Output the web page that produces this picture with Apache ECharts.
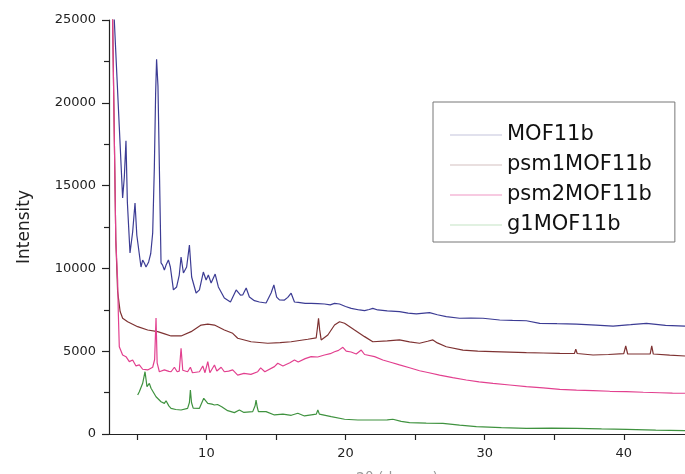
<!DOCTYPE html>
<html>
<head>
<meta charset="utf-8">
<script src="https://cdn.jsdelivr.net/npm/echarts@6/dist/echarts.min.js"></script>
<style>
  html, body { margin: 0; padding: 0; background: #fff; }
  #chart { width: 685px; height: 474px; }
</style>
</head>
<body>
<div id="chart"></div>
<script>
// XRD patterns: [2θ, intensity] pairs
const seriesNames = ['MOF11b', 'psm1MOF11b', 'psm2MOF11b', 'g1MOF11b'];

const mof11b = [
  [3.2,30000],[3.38,25000],[3.74,18540],[3.98,14250],[4.1,15500],[4.22,17700],[4.32,14000],[4.51,10930],
  [4.7,12200],[4.87,13950],[5.0,12000],[5.3,10085],[5.42,10500],[5.54,10330],[5.66,10085],[5.85,10390],
  [6.0,10900],[6.14,12140],[6.26,16120],[6.35,20500],[6.42,22630],[6.52,21000],[6.62,16120],[6.74,10330],
  [6.85,10200],[6.98,9900],[7.1,10200],[7.27,10510],[7.41,10085],[7.63,8700],[7.86,8880],[8.05,9600],
  [8.18,10690],[8.35,9720],[8.58,10085],[8.78,11410],[8.94,9480],[9.26,8515],[9.5,8700],[9.78,9780],
  [9.98,9300],[10.14,9600],[10.34,9120],[10.63,9660],[10.86,8880],[11.29,8210],[11.73,7970],[12.14,8700],
  [12.25,8800],[12.45,8390],[12.61,8400],[12.86,8820],[13.09,8270],[13.45,8050],[13.81,7970],[14.29,7910],
  [14.65,8515],[14.85,9000],[15.05,8270],[15.25,8100],[15.61,8090],[15.85,8250],[16.09,8500],[16.33,7970],
  [16.6,7950],[17.1,7890],[17.53,7890],[18.0,7870],[18.49,7850],[18.9,7800],[19.21,7890],[19.57,7850],
  [20.0,7700],[20.41,7590],[21.0,7490],[21.37,7450],[21.7,7520],[21.96,7590],[22.09,7690],[22.32,7490],
  [23.0,7440],[23.88,7390],[24.5,7300],[25.09,7250],[26.04,7330],[26.6,7200],[27.24,7085],[28.2,6990],
  [29.0,7000],[29.88,6990],[31.08,6885],[32.0,6860],[33.0,6840],[33.96,6685],[35.2,6660],[36.6,6640],
  [38.0,6580],[39.23,6520],[40.5,6600],[41.63,6685],[43.0,6560],[44.4,6520]
];

const psm1 = [
  [3.2,30000],[3.26,25000],[3.49,11700],[3.62,8600],[3.8,7400],[3.98,6990],[4.34,6780],[5.06,6480],
  [5.78,6280],[6.5,6180],[7.0,6050],[7.46,5920],[8.18,5920],[8.9,6180],[9.62,6580],[10.1,6640],
  [10.58,6580],[11.29,6280],[11.89,6080],[12.25,5780],[13.21,5570],[14.41,5480],[15.3,5520],[16.09,5570],
  [17.29,5720],[17.89,5800],[17.98,6400],[18.06,6990],[18.14,6300],[18.25,5680],[18.73,5980],[19.21,6580],
  [19.57,6780],[19.93,6685],[20.65,6280],[21.37,5880],[21.96,5570],[23.0,5620],[23.88,5680],[24.6,5560],
  [25.32,5480],[25.9,5600],[26.28,5680],[26.6,5500],[27.24,5270],[28.44,5070],[29.5,5000],[30.6,4970],
  [31.8,4940],[33.0,4910],[34.2,4890],[35.4,4870],[36.45,4860],[36.55,5115],[36.65,4860],[37.79,4770],
  [38.9,4800],[40.0,4850],[40.14,5315],[40.28,4830],[41.2,4830],[41.9,4840],[42.01,5315],[42.12,4830],
  [43.3,4760],[44.4,4710]
];

const psm2 = [
  [3.2,30000],[3.26,25000],[3.49,11700],[3.62,9300],[3.67,7300],[3.74,5270],[3.98,4770],[4.22,4670],
  [4.46,4370],[4.7,4470],[4.94,4110],[5.18,4170],[5.42,3910],[5.54,4030],[5.78,3870],[6.14,4030],
  [6.28,4500],[6.38,7000],[6.46,4300],[6.62,3760],[6.98,3870],[7.1,3990],[7.3,3780],[7.46,3760],
  [7.7,4030],[7.9,3760],[8.05,3800],[8.18,5175],[8.3,3850],[8.65,3760],[8.85,4030],[9.0,3700],
  [9.5,3760],[9.74,4110],[9.9,3700],[10.1,4370],[10.25,3700],[10.58,4170],[10.75,3800],[11.06,4030],
  [11.29,3760],[11.6,3800],[11.89,3870],[12.25,3560],[12.7,3660],[13.2,3600],[13.69,3760],[13.9,3990],
  [14.2,3760],[14.89,4070],[15.13,4270],[15.5,4110],[16.0,4300],[16.33,4470],[16.6,4350],[17.1,4550],
  [17.53,4670],[18.0,4650],[18.49,4770],[18.9,4850],[19.21,4970],[19.5,5050],[19.81,5235],[20.05,5000],
  [20.4,4950],[20.77,4830],[21.13,5070],[21.37,4800],[22.09,4670],[22.68,4470],[23.3,4320],[23.88,4170],
  [24.6,4000],[25.32,3820],[26.0,3700],[26.76,3560],[27.7,3400],[28.68,3260],[29.6,3150],[30.6,3060],
  [31.8,2960],[33.0,2860],[34.2,2780],[35.4,2700],[36.6,2650],[37.79,2615],[39.0,2580],[40.19,2555],
  [41.4,2520],[42.59,2490],[43.5,2470],[44.4,2460]
];

const g1 = [
  [5.06,2355],[5.18,2555],[5.42,3060],[5.59,3760],[5.73,2860],[5.9,3060],[6.02,2760],[6.38,2250],
  [6.74,1950],[6.98,1850],[7.1,2010],[7.3,1700],[7.46,1550],[7.8,1480],[8.18,1450],[8.65,1550],
  [8.78,1900],[8.85,2655],[8.93,1900],[9.05,1560],[9.5,1550],[9.81,2155],[10.1,1850],[10.4,1800],
  [10.58,1750],[10.8,1780],[11.1,1650],[11.53,1410],[12.01,1290],[12.37,1450],[12.7,1300],[13.33,1350],
  [13.5,1700],[13.57,2050],[13.66,1600],[13.74,1350],[14.29,1350],[14.89,1150],[15.5,1200],[16.1,1130],
  [16.57,1250],[17.05,1090],[17.9,1200],[18.01,1450],[18.12,1200],[18.25,1150],[18.97,1050],[19.93,890],
  [20.89,845],[21.96,845],[23.0,850],[23.4,890],[24.0,760],[24.6,685],[25.8,660],[27.0,645],
  [28.2,540],[29.4,440],[31.2,390],[33.0,345],[34.8,350],[36.6,345],[38.4,310],[40.2,285],
  [42.3,240],[44.4,200]
];

const xTickValues = [5, 10, 15, 20, 25, 30, 35, 40];
const xLabelValues = [10, 20, 30, 40];

const lineColors = ['#3c3c94', '#7e3232', '#e2408f', '#3f923f'];
const legendLineColors = ['#c4c4dc', '#d4c0c0', '#f096c4', '#c4e4c4'];

const chart = echarts.init(document.getElementById('chart'));
const font = 'DejaVu Sans';

chart.setOption({
  backgroundColor: '#ffffff',
  animation: false,
  textStyle: { fontFamily: font },
  grid: { left: 109, right: 0, top: 20, bottom: 40, containLabel: false, outerBoundsMode: 'none' },
  legend: {
    orient: 'vertical',
    left: 433,
    top: 102,
    padding: [22, 23, 6, 17],
    itemWidth: 52,
    itemHeight: 10,
    itemGap: 8,
    borderColor: '#777',
    borderWidth: 1,
    textStyle: { fontFamily: font, fontSize: 21, color: '#111', lineHeight: 22 },
    data: seriesNames.map((n, i) => ({
      name: n,
      icon: 'path://M0,0 L52,0 L52,1 L0,1 Z',
      itemStyle: { color: legendLineColors[i] },
      lineStyle: { color: legendLineColors[i], width: 1 }
    }))
  },
  xAxis: {
    type: 'value',
    min: 3,
    max: 44.4,
    name: '2θ (degree)',
    nameLocation: 'middle',
    nameGap: 37,
    nameTextStyle: { fontFamily: font, fontSize: 14, color: '#999' },
    splitLine: { show: false },
    axisLine: { show: true, onZero: false, lineStyle: { color: '#222', width: 1.2 } },
    axisTick: { show: true, inside: false, length: 6, customValues: xTickValues, lineStyle: { color: '#222', width: 1.2 } },
    axisLabel: { customValues: xLabelValues, margin: 13, fontSize: 13, color: '#222', fontFamily: font }
  },
  yAxis: {
    type: 'value',
    min: 0,
    max: 25000,
    interval: 5000,
    name: 'Intensity',
    nameLocation: 'middle',
    nameRotate: 90,
    nameGap: 76,
    nameTextStyle: { fontFamily: font, fontSize: 17, color: '#222' },
    splitLine: { show: false },
    axisLine: { show: true, lineStyle: { color: '#222', width: 1.2 } },
    axisTick: { show: true, inside: false, length: 7, lineStyle: { color: '#222', width: 1.2 } },
    minorTick: { show: true, splitNumber: 2, length: 5, lineStyle: { color: '#222', width: 1.2 } },
    axisLabel: { margin: 13, fontSize: 13, color: '#222', fontFamily: font, formatter: v => String(v) }
  },
  series: [mof11b, psm1, psm2, g1].map((d, i) => ({
    name: seriesNames[i],
    type: 'line',
    data: d,
    symbol: 'none',
    clip: true,
    lineStyle: { color: lineColors[i], width: 1.2 },
    itemStyle: { color: lineColors[i] },
    z: 2 + i
  }))
});
</script>
</body>
</html>
